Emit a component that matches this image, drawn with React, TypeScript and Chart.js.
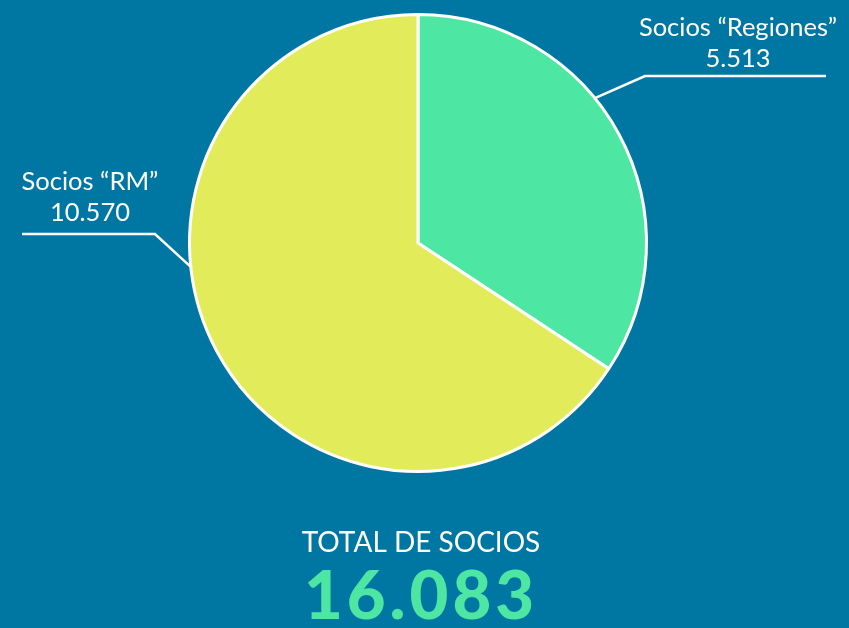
import React, { useEffect, useRef } from "react";
import { Chart, registerables } from "chart.js";

Chart.register(...registerables);

const categories = ["Socios \u201cRegiones\u201d", "Socios \u201cRM\u201d"];
const valueLabels = ["5.513", "10.570"];
const values = [5513, 10570];
const colors = ["#4DE6A2", "#E2EC5A"];
const totalTitle = "TOTAL DE SOCIOS";
const totalLabel = "16.083";

const BG = "#0077A3";

const labelPlugin = {
  id: "pieLabels",
  afterDraw(chart: any) {
    const ctx = chart.ctx;
    const meta = chart.getDatasetMeta(0);
    const cfg = [
      { frac: 0.41, elbow: [645, 76], end: [826, 76], text: [738, 28] },
      { frac: 0.593, elbow: [155, 234], end: [22, 234], text: [90, 182] },
    ];
    ctx.save();
    meta.data.forEach((arc: any, i: number) => {
      const { x, y, startAngle, endAngle, outerRadius } = arc.getProps(
        ["x", "y", "startAngle", "endAngle", "outerRadius"],
        true
      );
      const c = cfg[i];
      const a = startAngle + (endAngle - startAngle) * c.frac;
      const ax = x + Math.cos(a) * (outerRadius - 1);
      const ay = y + Math.sin(a) * (outerRadius - 1);
      ctx.strokeStyle = "#FFFFFF";
      ctx.lineWidth = 2.5;
      ctx.beginPath();
      ctx.moveTo(ax, ay);
      ctx.lineTo(c.elbow[0], c.elbow[1]);
      ctx.lineTo(c.end[0], c.end[1]);
      ctx.stroke();
      ctx.fillStyle = "#FFFFFF";
      ctx.font = "25.5px Lato";
      ctx.textAlign = "center";
      ctx.textBaseline = "middle";
      ctx.fillText(categories[i], c.text[0], c.text[1]);
      ctx.fillText(valueLabels[i], c.text[0], c.text[1] + 31);
    });
    ctx.textAlign = "center";
    ctx.textBaseline = "middle";
    ctx.fillStyle = "#FFFFFF";
    ctx.font = "28px Lato";
    ctx.fillText(totalTitle, 421, 543);
    ctx.fillStyle = "#4DE6A2";
    ctx.font = "900 67px Lato";
    (ctx as any).letterSpacing = "4px";
    ctx.fillText(totalLabel, 421, 597);
    ctx.restore();
  },
};

export default function App() {
  const ref = useRef<HTMLCanvasElement>(null);
  useEffect(() => {
    if (!ref.current) return;
    const chart = new Chart(ref.current, {
      type: "pie",
      data: {
        labels: categories,
        datasets: [
          {
            data: values,
            backgroundColor: colors,
            borderColor: "#FFFFFF",
            borderWidth: 3,
          },
        ],
      },
      options: {
        responsive: false,
        animation: false,
        layout: { padding: { left: 188, right: 201, top: 13, bottom: 155 } },
        plugins: {
          legend: { display: false },
          tooltip: { enabled: false },
        },
      },
      plugins: [labelPlugin],
    });
    return () => chart.destroy();
  }, []);
  return (
    <div
      style={{
        position: "absolute",
        left: 0,
        top: 0,
        width: 849,
        height: 628,
        background: BG,
      }}
    >
      <canvas ref={ref} width={849} height={628} />
    </div>
  );
}
